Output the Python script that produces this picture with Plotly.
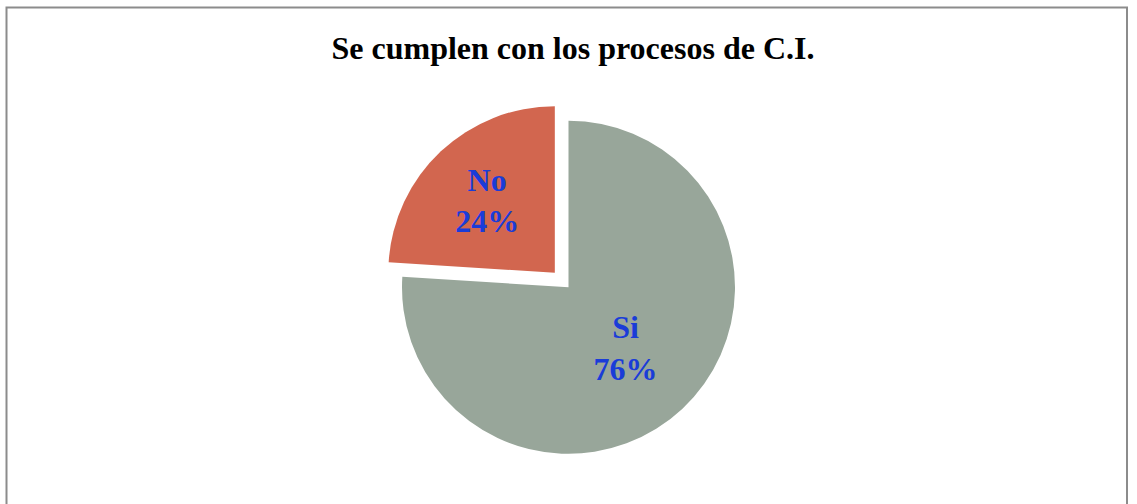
import plotly.graph_objects as go

categories = ["Si", "No"]
values = [76, 24]
colors = ["#98A69A", "#D2664F"]

W, H = 1137, 504

fig = go.Figure(go.Pie(
    labels=categories,
    values=values,
    sort=False,
    direction="clockwise",
    rotation=0,
    pull=[0, 0.12],
    marker=dict(colors=colors, line=dict(color="#4A2018", width=0)),
    texttemplate="<b>%{label}<br>%{percent:.0%}</b>",
    textposition="inside",
    insidetextorientation="horizontal",
    textfont=dict(family="Liberation Serif", size=32, color="#1A3CD8"),
    domain=dict(x=[0, 1], y=[0.06, 0.80]),
    showlegend=False,
    hoverinfo="label+percent",
))

fig.update_layout(
    width=W, height=H,
    margin=dict(l=0, r=0, t=0, b=0),
    paper_bgcolor="white",
    title=dict(
        text="<b>Se cumplen con los procesos de C.I.</b>",
        x=573 / W, xanchor="center",
        y=1 - 48 / H, yanchor="middle",
        font=dict(family="Liberation Serif", size=32, color="black"),
    ),
    shapes=[dict(
        type="rect", xref="paper", yref="paper",
        x0=6.5 / W, x1=1127 / W, y0=-0.05, y1=1 - 7.5 / H,
        line=dict(color="#8C8C8C", width=2), fillcolor="rgba(0,0,0,0)",
    )],
)

fig.write_html("out.html")
